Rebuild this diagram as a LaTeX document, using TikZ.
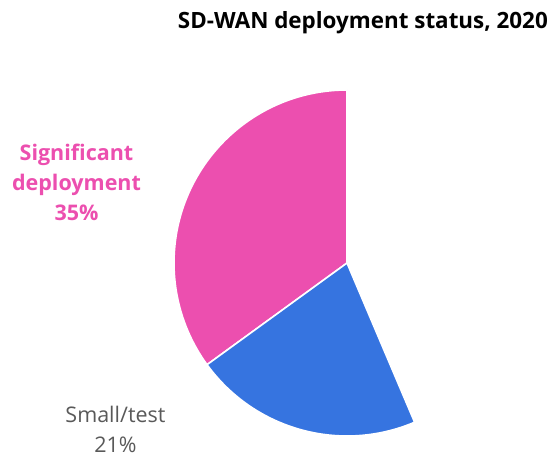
\documentclass[tikz,border=0pt]{standalone}
\usepackage{fontspec}
\setmainfont{Open Sans}
\usepackage{xcolor}
\usepackage{tikz}
\usetikzlibrary{positioning}
\definecolor{sigpink}{HTML}{EC4FAF}
\definecolor{smallblue}{HTML}{3674E0}
\definecolor{labelgray}{HTML}{595959}

\begin{document}
\begin{tikzpicture}[
  x=1pt, y=1pt,
  slice/.style={draw=white, line width=1.6pt, line join=round},
  lbl/.style={align=center, inner sep=0pt, font=\fontsize{21.5}{30}\selectfont},
]
\useasboundingbox (0,0) rectangle (551,457);

% Title, set flush right at the top.
\node[anchor=base east, inner sep=0pt, font=\fontsize{22.4}{30}\selectfont\bfseries] (title) at (548,428) {SD-WAN deployment status, 2020};

% Pie centre and the two slices that are shown.
\coordinate (centre) at (347,194);
\fill[sigpink, slice] (centre) -- ++(90:173) arc[start angle=90, end angle=216, radius=173] -- cycle;
\fill[smallblue, slice] (centre) -- ++(216:173) arc[start angle=216, end angle=293, radius=173] -- cycle;

% Slice labels.
\node[lbl, text=sigpink, font=\fontsize{21.5}{30}\selectfont\bfseries] (significant) at (76.5,275) {Significant\\deployment\\35\%};
\node[lbl, text=labelgray] (smalltest) at (115.5,28) {Small/test\\21\%};
\end{tikzpicture}
\end{document}
